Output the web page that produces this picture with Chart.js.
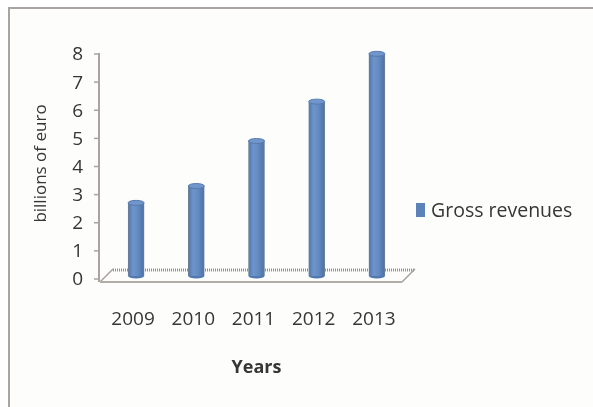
<!DOCTYPE html>
<html>
<head>
<meta charset="utf-8">
<title>Gross revenues</title>
<script src="https://cdn.jsdelivr.net/npm/chart.js@4.4.0/dist/chart.umd.min.js"></script>
<style>
  html, body { margin: 0; padding: 0; background: #fff; }
  #wrap { position: relative; width: 593px; height: 407px; overflow: hidden; }
  #frame {
    position: absolute; left: 8px; top: 7px; right: -5px; bottom: -5px;
    border-top: 2px solid #a9a3a3; border-left: 2px solid #a9a3a3;
    background: #fdfdfb;
  }
  #revChart { position: absolute; left: 0; top: 0; }
  #legend {
    position: absolute; left: 416px; top: 196px;
    font: 19.5px 'Open Sans', sans-serif; color: #363636;
    display: flex; align-items: center;
  }
  #legend .box { width: 9px; height: 14px; margin-right: 6px; }
</style>
</head>
<body>
<div id="wrap">
  <div id="frame"></div>
  <canvas id="revChart" width="593" height="407"></canvas>
  <div id="legend"></div>
</div>
<script>
const years = ['2009', '2010', '2011', '2012', '2013'];
const grossRevenues = [2.6, 3.2, 4.8, 6.2, 7.9];
const yMin = 0;
const yMax = 8;

const TEXT = '#363636';
const BAR = '#5b82b9';
const FONT = "'Open Sans', sans-serif";

// horizontal shading so each bar reads as a cylinder
function barShade(c) {
  const chart = c.chart;
  if (!chart.chartArea) return BAR;
  const x = chart.scales.x.getPixelForValue(c.dataIndex);
  const g = chart.ctx.createLinearGradient(x - 8, 0, x + 8, 0);
  g.addColorStop(0, '#4e76ad');
  g.addColorStop(0.3, '#6e95ca');
  g.addColorStop(0.6, '#658cc2');
  g.addColorStop(1, '#4a71a6');
  return g;
}

// floor slab, front axis line and cylinder caps
const depthDecor = {
  id: 'depthDecor',
  beforeDatasetsDraw(chart) {
    const { ctx, chartArea: a, scales: { y } } = chart;
    const z = y.getPixelForValue(0);
    ctx.save();
    ctx.lineWidth = 1.5;
    ctx.strokeStyle = '#aaa19c';
    ctx.beginPath();
    ctx.moveTo(a.left - 6, z + 6);
    ctx.lineTo(a.left + 7, z - 7);
    ctx.moveTo(a.right + 8, z - 7);
    ctx.lineTo(a.right - 5, z + 6);
    ctx.stroke();
    ctx.strokeStyle = '#b3aca8';
    ctx.lineWidth = 2;
    ctx.beginPath();
    ctx.moveTo(a.left - 6, z + 6);
    ctx.lineTo(a.right - 5, z + 6);
    ctx.stroke();
    ctx.strokeStyle = '#9a918b';
    ctx.lineWidth = 3;
    ctx.setLineDash([1, 1]);
    ctx.beginPath();
    ctx.moveTo(a.left + 7, z - 6);
    ctx.lineTo(a.right + 8, z - 6);
    ctx.stroke();
    ctx.setLineDash([]);

    // value axis at the front left corner
    const ax = a.left - 7;
    ctx.strokeStyle = '#aaa3a0';
    ctx.lineWidth = 2;
    ctx.beginPath();
    ctx.moveTo(ax, y.getPixelForValue(yMax) + 2);
    ctx.lineTo(ax, z + 6);
    ctx.stroke();
    ctx.lineWidth = 1.5;
    y.ticks.forEach(t => {
      const py = y.getPixelForValue(t.value) + 3;
      ctx.beginPath();
      ctx.moveTo(ax - 5, py);
      ctx.lineTo(ax, py);
      ctx.stroke();
    });
    ctx.restore();
  },
  afterDatasetsDraw(chart) {
    const { ctx } = chart;
    const meta = chart.getDatasetMeta(0);
    ctx.save();
    meta.data.forEach(el => {
      const r = el.width / 2;
      ctx.fillStyle = '#5279af';
      ctx.beginPath();
      ctx.ellipse(el.x, el.base, r, 2.5, 0, 0, Math.PI);
      ctx.fill();
      ctx.fillStyle = '#7096cb';
      ctx.strokeStyle = '#557ab0';
      ctx.lineWidth = 1;
      ctx.beginPath();
      ctx.ellipse(el.x, el.y, r, 2.5, 0, 0, Math.PI * 2);
      ctx.fill();
      ctx.stroke();
    });
    ctx.restore();
  }
};

const chart = new Chart(document.getElementById('revChart'), {
  type: 'bar',
  data: {
    labels: years,
    datasets: [{
      label: 'Gross revenues',
      data: grossRevenues,
      backgroundColor: barShade,
      borderColor: '#6f7f96',
      borderWidth: { left: 1, right: 1, top: 0, bottom: 0 },
      borderSkipped: false,
      barThickness: 16
    }]
  },
  options: {
    responsive: false,
    animation: false,
    layout: { padding: { top: 51, right: 186, bottom: 0, left: 0 } },
    plugins: {
      legend: { display: false },
      tooltip: { enabled: false }
    },
    scales: {
      x: {
        grid: { display: false, drawTicks: false },
        border: { display: false },
        ticks: { padding: 32, labelOffset: -3, color: TEXT, font: { family: FONT, size: 19 } },
        title: {
          display: true, text: 'Years', color: TEXT,
          font: { family: FONT, size: 18, weight: 'bold' },
          padding: { top: 0, bottom: 28 }
        },
        afterFit(s) { s.height = 131; }
      },
      y: {
        min: yMin,
        max: yMax,
        grid: { display: false, drawTicks: false },
        border: { display: false },
        ticks: { stepSize: 1, padding: 23, labelOffset: 4, color: TEXT, font: { family: FONT, size: 19 } },
        title: {
          display: true, text: 'billions of euro', color: TEXT,
          font: { family: FONT, size: 17 },
          padding: { top: 31, bottom: 0 }
        },
        afterFit(s) { s.width = 106; }
      }
    }
  },
  plugins: [depthDecor]
});

// legend beside the plot
const legend = document.getElementById('legend');
chart.data.datasets.forEach(ds => {
  const box = document.createElement('span');
  box.className = 'box';
  box.style.background = BAR;
  const txt = document.createElement('span');
  txt.textContent = ds.label;
  legend.appendChild(box);
  legend.appendChild(txt);
});
</script>
</body>
</html>
